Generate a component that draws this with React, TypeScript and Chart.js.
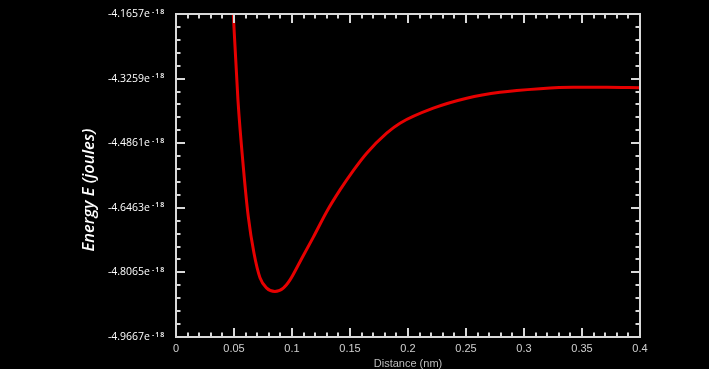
import React, { useEffect, useRef } from 'react';
import { Chart, registerables } from 'chart.js';

Chart.register(...registerables);

// Distance (nm)
const distanceNm = [
  0.046, 0.0494, 0.0534, 0.058, 0.0623, 0.0672, 0.0724, 0.0782, 0.0853, 0.0925,
  0.0983, 0.1069, 0.1184, 0.1299, 0.1414, 0.1528, 0.1644, 0.1816, 0.1931, 0.2218,
  0.2506, 0.2793, 0.3138, 0.3425, 0.3713, 0.4,
];
// Energy E in units of 1e-18 J
const energyE18 = [
  -3.97, -4.1657, -4.3788, -4.544, -4.6679, -4.7586, -4.8198, -4.8454, -4.8538, -4.8454,
  -4.825, -4.78, -4.719, -4.656, -4.602, -4.554, -4.5108, -4.4613, -4.4365, -4.3993,
  -4.3746, -4.3597, -4.3508, -4.3473, -4.3473, -4.3483,
];
// Labelled y ticks (units of 1e-18 J)
const yTickLabels = [-4.9667, -4.8065, -4.6463, -4.4861, -4.3259, -4.1657];
const yExponent = '-18';
// Labelled x ticks (nm)
const xTickLabels = [0, 0.05, 0.1, 0.15, 0.2, 0.25, 0.3, 0.35, 0.4];
const minorPerMajor = 5;

const yTitle = 'Energy E (joules)';
const xTitle = 'Distance (nm)';

function buildTicks(majors: number[]) {
  const out: { value: number }[] = [];
  for (let i = 0; i < majors.length - 1; i++) {
    const a = majors[i];
    const b = majors[i + 1];
    for (let k = 0; k < minorPerMajor; k++) {
      out.push({ value: a + ((b - a) * k) / minorPerMajor });
    }
  }
  out.push({ value: majors[majors.length - 1] });
  return out;
}

const framePlugin = {
  id: 'framePlugin',
  afterDatasetsDraw(chart: any) {
    const { ctx, chartArea } = chart;
    const { left, right, top, bottom } = chartArea;
    const xs = chart.scales.x;
    const ys = chart.scales.y;
    ctx.save();
    ctx.strokeStyle = '#d9d9d9';
    ctx.lineWidth = 2;
    ctx.beginPath();
    xs.ticks.forEach((t: any, i: number) => {
      const px = Math.round(xs.getPixelForValue(t.value));
      const len = i % minorPerMajor === 0 ? 9 : 4.5;
      ctx.moveTo(px, bottom);
      ctx.lineTo(px, bottom - len);
      ctx.moveTo(px, top);
      ctx.lineTo(px, top + len);
    });
    ys.ticks.forEach((t: any, i: number) => {
      const py = Math.round(ys.getPixelForValue(t.value));
      const len = i % minorPerMajor === 0 ? 9 : 4.5;
      ctx.moveTo(left, py);
      ctx.lineTo(left + len, py);
      ctx.moveTo(right, py);
      ctx.lineTo(right - len, py);
    });
    ctx.stroke();
    ctx.strokeRect(left, top, right - left, bottom - top);

    // exponent superscripts after the y tick labels
    ctx.fillStyle = '#ffffff';
    ctx.font = "600 7px 'Open Sans'";
    (ctx as any).letterSpacing = '1px';
    ctx.textAlign = 'left';
    ctx.textBaseline = 'alphabetic';
    yTickLabels.forEach((v) => {
      const py = ys.getPixelForValue(v);
      ctx.fillText(yExponent, left - 24, py - 0.5);
    });
    (ctx as any).letterSpacing = '0px';

    // y title
    ctx.font = "italic 600 16.5px 'Open Sans'";
    ctx.textAlign = 'center';
    ctx.textBaseline = 'middle';
    ctx.translate(89, 190);
    ctx.rotate(-Math.PI / 2);
    ctx.fillText(yTitle, 0, 0);
    ctx.restore();
  },
};

export default function App() {
  const ref = useRef<HTMLCanvasElement>(null);
  useEffect(() => {
    if (!ref.current) return;
    const chart = new Chart(ref.current, {
      type: 'line',
      data: {
        datasets: [
          {
            data: distanceNm.map((x, i) => ({ x, y: energyE18[i] })),
            borderColor: '#e60000',
            borderWidth: 3,
            pointRadius: 0,
            cubicInterpolationMode: 'monotone',
            fill: false,
          },
        ],
      },
      options: {
        animation: false,
        responsive: false,
        layout: { padding: { left: 0, top: 14, right: 69, bottom: 0 } },
        plugins: { legend: { display: false }, tooltip: { enabled: false } },
        scales: {
          x: {
            type: 'linear',
            min: 0,
            max: 0.4,
            grid: { display: false, drawTicks: false },
            border: { display: false },
            afterBuildTicks: (s: any) => {
              s.ticks = buildTicks(xTickLabels);
            },
            afterFit: (s: any) => {
              s.height = 32;
              s.paddingLeft = 0;
              s.paddingRight = 0;
            },
            ticks: {
              autoSkip: false,
              maxRotation: 0,
              padding: 5,
              color: '#d0d0d0',
              font: { family: "'Liberation Sans', Arial", size: 11 },
              callback: (v: any, i: number) =>
                i % minorPerMajor === 0 ? String(xTickLabels[i / minorPerMajor]) : '',
            },
            title: {
              display: true,
              text: xTitle,
              color: '#bdbdbd',
              padding: { top: 0, bottom: -2 },
              font: { family: "'Liberation Sans', Arial", size: 11 },
            },
          },
          y: {
            type: 'linear',
            min: yTickLabels[0],
            max: yTickLabels[yTickLabels.length - 1],
            grid: { display: false, drawTicks: false },
            border: { display: false },
            afterBuildTicks: (s: any) => {
              s.ticks = buildTicks(yTickLabels);
            },
            afterFit: (s: any) => {
              s.width = 176;
              s.paddingTop = 0;
              s.paddingBottom = 0;
            },
            ticks: {
              autoSkip: false,
              padding: 26,
              color: '#ffffff',
              font: { family: "'Open Sans'", size: 10.5 },
              callback: (v: any, i: number) =>
                i % minorPerMajor === 0 ? yTickLabels[i / minorPerMajor].toFixed(4) + 'e' : '',
            },
          },
        },
      },
      plugins: [framePlugin],
    } as any);
    return () => chart.destroy();
  }, []);
  return (
    <div
      style={{
        position: 'absolute',
        left: 0,
        top: 0,
        width: 709,
        height: 369,
        background: '#000',
      }}
    >
      <canvas ref={ref} width={709} height={369} style={{ display: 'block' }} />
    </div>
  );
}
